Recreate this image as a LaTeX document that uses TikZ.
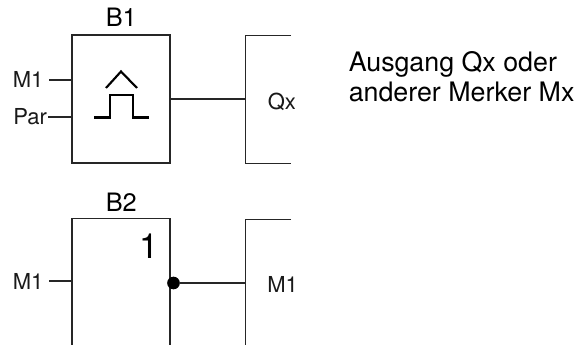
\documentclass[tikz,border=0pt]{standalone}
\usepackage{fontspec}
\setmainfont{TeX Gyre Heros}
\tikzset{
  wire/.style={draw=black!85,line width=0.85pt},
  sym/.style={draw=black,line width=1.6pt,line join=miter},
  lab/.style={inner sep=0pt,anchor=base west,font=\fontsize{16.5}{18}\selectfont,text=black!90},
  title/.style={inner sep=0pt,anchor=base west,font=\fontsize{19}{22}\selectfont,text=black},
  note/.style={inner sep=0pt,anchor=base west,font=\fontsize{20.1}{24}\selectfont,text=black}
}
\begin{document}
\begin{tikzpicture}[x=0.75pt,y=-0.75pt]
\useasboundingbox (0,0) rectangle (578,345);
% B1
\node[wire,minimum width=73.5pt,minimum height=96pt,inner sep=0pt] (b1) at (121,99) {};
\node[title] (b1t) at (105.5,27) {B1};
\coordinate (b1m) at (72,80);
\coordinate (b1p) at (72,117);
\node[lab] (m1a) at (12.5,88) {M1};
\node[lab] (para) at (13,125) {Par};
\coordinate (m1ae) at (49,80);
\coordinate (parae) at (48,117);
\draw[wire] (m1ae) -- (b1m);
\draw[wire] (parae) -- (b1p);
% symbol
\draw[sym] (94,117.5) -- (110,117.5) -- (110,95) -- (133,95) -- (133,117.5) -- (149,117.5);
\draw[sym] (106,88) -- (121,71.5) -- (137,88);
% Qx
\coordinate (qa) at (291,35.5);
\coordinate (qb) at (245.5,35.5);
\coordinate (qc) at (245.5,163.5);
\coordinate (qd) at (291,163.5);
\coordinate (qi) at (245.5,99);
\draw[wire] (qa) -- (qb) -- (qc) -- (qd);
\draw[wire] (b1.east) -- (qi);
\node[lab] (qx) at (267.5,110) {Qx};
% note
\node[note] (n1) at (348.5,72) {Ausgang Qx oder};
\node[note] (n2) at (348.5,102) {anderer Merker Mx};
% B2
\coordinate (b2a) at (72,345);
\coordinate (b2b) at (72,218.5);
\coordinate (b2c) at (170,218.5);
\coordinate (b2d) at (170,345);
\draw[wire] (b2a) -- (b2b) -- (b2c) -- (b2d);
\node[title] (b2t) at (105.5,211.5) {B2};
\node[inner sep=0pt,anchor=base west,font=\fontsize{26}{28}\selectfont] (one) at (139,258) {1};
\node[lab] (m1b) at (12.5,290) {M1};
\coordinate (m1be) at (49,281);
\coordinate (b2i) at (72,281);
\draw[wire] (m1be) -- (b2i);
\node[circle,fill=black,minimum size=9.5pt,inner sep=0pt] (dot) at (173.5,283) {};
\coordinate (q2i) at (245.5,283);
\draw[wire] (dot) -- (q2i);
\coordinate (q2a) at (291,219.5);
\coordinate (q2b) at (245.5,219.5);
\coordinate (q2c) at (245.5,345);
\draw[wire] (q2a) -- (q2b) -- (q2c);
\node[lab] (m1c) at (267,292) {M1};
\end{tikzpicture}
\end{document}
